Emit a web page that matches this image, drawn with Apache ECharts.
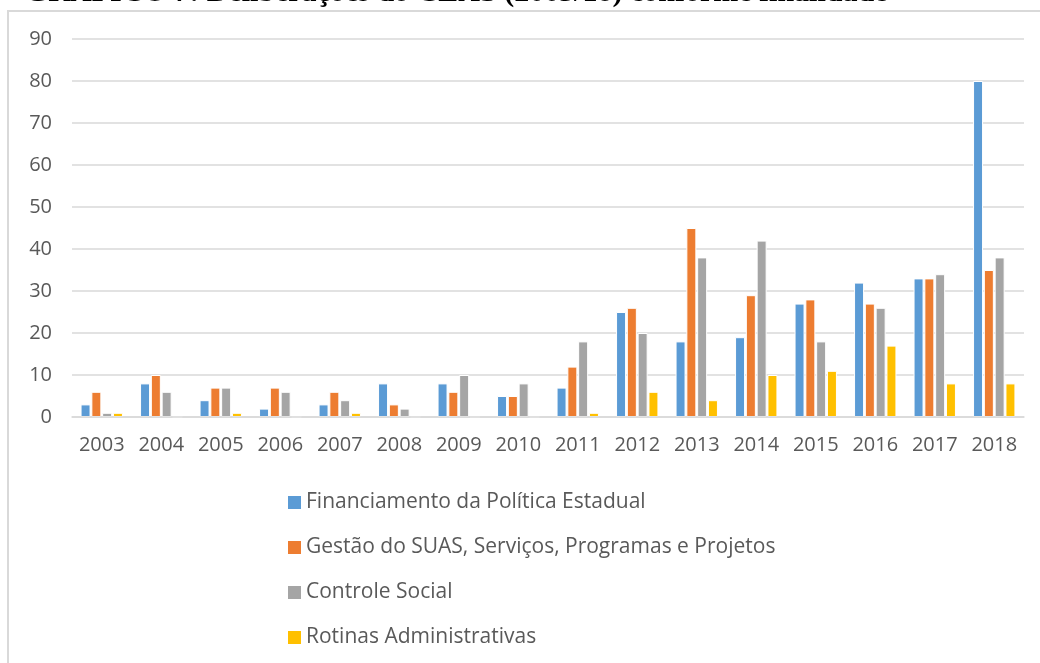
<!DOCTYPE html>
<html>
<head>
<meta charset="utf-8">
<script src="https://cdn.jsdelivr.net/npm/echarts@6/dist/echarts.min.js"></script>
<style>
html,body{margin:0;padding:0;background:#fff;}
#chart{width:1040px;height:663px;}
</style>
</head>
<body>
<div id="chart"></div>
<script>
var years = ['2003','2004','2005','2006','2007','2008','2009','2010','2011','2012','2013','2014','2015','2016','2017','2018'];
var financiamento = [3, 8, 4, 2, 3, 8, 8, 5, 7, 25, 18, 19, 27, 32, 33, 80];
var gestao        = [6, 10, 7, 7, 6, 3, 6, 5, 12, 26, 45, 29, 28, 27, 33, 35];
var controle      = [1, 6, 7, 6, 4, 2, 10, 8, 18, 20, 38, 42, 18, 26, 34, 38];
var rotinas       = [1, 0, 1, 0, 1, 0, 0, 0, 1, 6, 4, 10, 11, 17, 8, 8];
var nomes = ['Financiamento da Política Estadual', 'Gestão do SUAS, Serviços, Programas e Projetos', 'Controle Social', 'Rotinas Administrativas'];
var cores = ['#5B9BD5', '#ED7D31', '#A5A5A5', '#FFC000'];

var chart = echarts.init(document.getElementById('chart'));

function serie(i, dados){
	return {
		name: nomes[i],
		type: 'bar',
		data: dados,
		barWidth: 10,
		barGap: '8%',
		itemStyle: {color: cores[i], borderColor: '#fff', borderWidth: 1}
	};
}

var option = {
	animation: false,
	textStyle: {fontFamily: 'Open Sans'},
	graphic: [
		{ // moldura do grafico
			type: 'rect',
			shape: {x: 8, y: 11, width: 1040, height: 700},
			style: {fill: 'none', stroke: '#d9d9d9', lineWidth: 2},
			silent: true
		},
		{ // titulo cortado no topo
			type: 'text',
			x: 25, y: 8,
			style: {
				text: 'GRÁFICO 7: Deliberações do CEAS (2003/18) conforme finalidade',
				font: 'bold 30px "Liberation Serif"',
				fill: '#000',
				verticalAlign: 'bottom'
			},
			silent: true
		}
	],
	grid: {left: 72, right: 16, top: 39, bottom: 246},
	legend: {
		orient: 'vertical',
		left: 283,
		top: 487,
		itemWidth: 13,
		itemHeight: 13,
		itemGap: 24,
		icon: 'rect',
		itemStyle: {borderWidth: 0},
		textStyle: {fontSize: 21, color: '#595959', fontFamily: 'Open Sans'},
		data: nomes
	},
	xAxis: {
		type: 'category',
		data: years,
		z: 3,
		axisLine: {lineStyle: {color: '#d9d9d9', width: 1.5}},
		axisTick: {show: false},
		axisLabel: {fontSize: 20, color: '#595959', margin: 18, interval: 0}
	},
	yAxis: {
		type: 'value',
		min: 0,
		max: 90,
		interval: 10,
		axisLine: {show: false},
		axisTick: {show: false},
		splitLine: {lineStyle: {color: '#d9d9d9', width: 1.5}},
		axisLabel: {fontSize: 20, color: '#595959', margin: 20}
	},
	series: [
		serie(0, financiamento),
		serie(1, gestao),
		serie(2, controle),
		serie(3, rotinas)
	]
};
chart.setOption(option);
</script>
</body>
</html>
